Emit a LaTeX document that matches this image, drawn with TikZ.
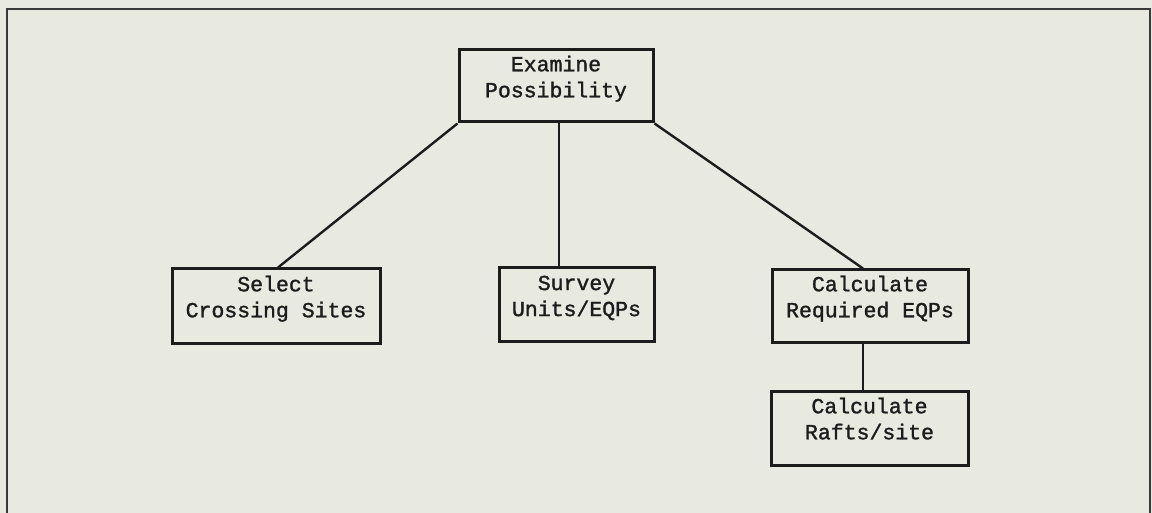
\documentclass[tikz,border=0pt]{standalone}
\usepackage{fontspec}
\newfontfamily\dotfont[UprightFeatures={FakeBold=1.4}]{Liberation Mono}
\begin{document}
\begin{tikzpicture}[x=1pt,y=-1pt,
  stepbox/.style={draw=ink, line width=3pt, fill=none, inner sep=0pt},
  lbl/.style={font=\dotfont\fontsize{21.5}{26}\selectfont, text=ink, align=center, inner sep=0pt, anchor=north},
  link/.style={draw=ink, line width=2.4pt}]
  \definecolor{paper}{HTML}{E8E9E1}
  \definecolor{ink}{HTML}{1C1C1C}
  \definecolor{rim}{HTML}{3A3838}
  % page and outer frame
  \fill[paper] (0,0) rectangle (1152,513);
  \useasboundingbox (0,0) rectangle (1152,513);
  \clip (0,0) rectangle (1152,513);
  \draw[rim, line width=2pt] (7,9) rectangle (1150,540);

  % boxes
  \node[stepbox, minimum width=194pt, minimum height=72pt] (top) at (556,86) {};
  \node[stepbox, minimum width=208pt, minimum height=74pt] (sel) at (276,306) {};
  \node[stepbox, minimum width=155pt, minimum height=73pt] (svy) at (576.5,304.5) {};
  \node[stepbox, minimum width=196pt, minimum height=72pt] (req) at (870,306) {};
  \node[stepbox, minimum width=197pt, minimum height=74pt] (raft) at (869.5,428) {};

  % labels, hung from the top edge of each box
  \node[lbl] (topt) at ([yshift=-7pt]top.north) {Examine\\Possibility};
  \node[lbl] (selt) at ([yshift=-8pt]sel.north) {Select\\Crossing Sites};
  \node[lbl] (svyt) at ([yshift=-9pt]svy.north) {Survey\\Units/EQPs};
  \node[lbl] (reqt) at ([yshift=-7pt]req.north) {Calculate\\Required EQPs};
  \node[lbl] (raftt) at ([yshift=-8pt]raft.north) {Calculate\\Rafts/site};

  % connectors
  \draw[link] (top.south west) -- ([xshift=2pt]sel.north);
  \draw[link] ([xshift=3pt]top.south) -- ([xshift=3pt]top.south |- svy.north);
  \draw[link] (top.south east) -- ([xshift=-7pt]req.north);
  \draw[link] ([xshift=-7pt]req.south) -- ([xshift=-7pt]req.south |- raft.north);
\end{tikzpicture}
\end{document}
